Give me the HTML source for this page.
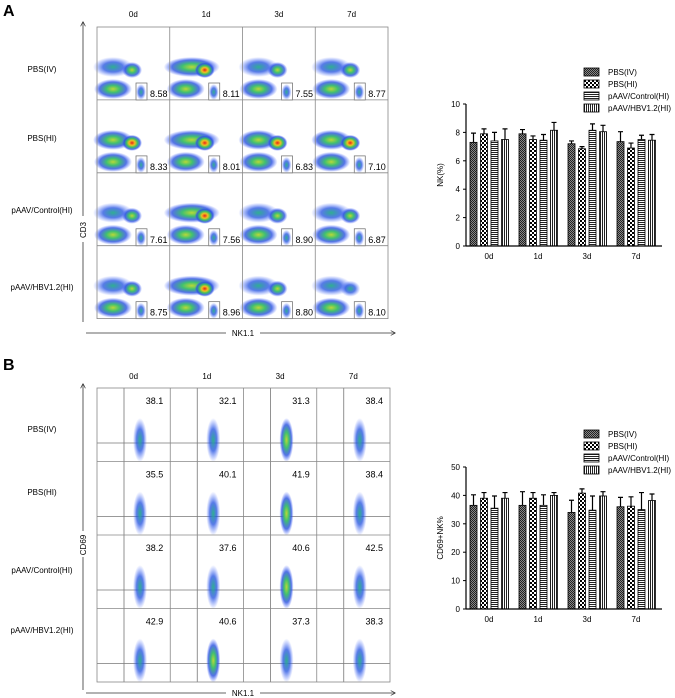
<!DOCTYPE html>
<html><head><meta charset="utf-8">
<style>
html,body{margin:0;padding:0;background:#fff;}
svg{display:block;font-family:"Liberation Sans",Arial,sans-serif;}
</style></head>
<body>
<svg id="fig" width="675" height="698" viewBox="0 0 675 698" xmlns="http://www.w3.org/2000/svg">
<defs>
<radialGradient id="gHot"><stop offset="0" stop-color="#e8201a"/><stop offset="0.3" stop-color="#f0c020"/><stop offset="0.55" stop-color="#3cc060"/><stop offset="0.8" stop-color="#2a50e0" stop-opacity="0.8"/><stop offset="1" stop-color="#4060ff" stop-opacity="0"/></radialGradient>
<radialGradient id="gWarm"><stop offset="0" stop-color="#b8d838"/><stop offset="0.35" stop-color="#40c070"/><stop offset="0.7" stop-color="#2850e0" stop-opacity="0.8"/><stop offset="1" stop-color="#4060ff" stop-opacity="0"/></radialGradient>
<radialGradient id="gCool"><stop offset="0" stop-color="#30b090"/><stop offset="0.5" stop-color="#2050e0" stop-opacity="0.75"/><stop offset="1" stop-color="#5070ff" stop-opacity="0"/></radialGradient>
<pattern id="p1" width="2" height="2" patternUnits="userSpaceOnUse"><rect width="2" height="2" fill="#888"/><rect width="1" height="1" fill="#222"/><rect x="1" y="1" width="1" height="1" fill="#222"/></pattern>
<pattern id="p2" width="4" height="4" patternUnits="userSpaceOnUse"><rect width="4" height="4" fill="#fff"/><rect width="2" height="2" fill="#000"/><rect x="2" y="2" width="2" height="2" fill="#000"/></pattern>
<pattern id="p3" width="3" height="2" patternUnits="userSpaceOnUse"><rect width="3" height="2" fill="#fff"/><rect width="3" height="1" fill="#222"/></pattern>
<pattern id="p4" width="2" height="3" patternUnits="userSpaceOnUse"><rect width="2" height="3" fill="#fff"/><rect width="1" height="3" fill="#222"/></pattern>
<marker id="arr" viewBox="0 0 10 10" refX="9" refY="5" markerWidth="6" markerHeight="6" orient="auto"><path d="M0,0 L10,5 L0,10" fill="none" stroke="#333" stroke-width="1.5"/></marker>
</defs>
<g id="root"></g>
</svg>
<script>
const NS="http://www.w3.org/2000/svg";
const root=document.getElementById('root');
function mk(tag,attrs,parent,text){const e=document.createElementNS(NS,tag);for(const k in attrs)e.setAttribute(k,attrs[k]);if(text!==undefined)e.textContent=text;(parent||root).appendChild(e);return e;}

// ===== data =====
const days=["0d","1d","3d","7d"];
const groups=["PBS(IV)","PBS(HI)","pAAV/Control(HI)","pAAV/HBV1.2(HI)"];
const gateA=[["8.58","8.11","7.55","8.77"],["8.33","8.01","6.83","7.10"],["7.61","7.56","8.90","6.87"],["8.75","8.96","8.80","8.10"]];
const gateB=[["38.1","32.1","31.3","38.4"],["35.5","40.1","41.9","38.4"],["38.2","37.6","40.6","42.5"],["42.9","40.6","37.3","38.3"]];
const nkMean=[[7.3,7.9,7.4,7.5],[7.9,7.5,7.45,8.15],[7.2,6.85,8.15,8.05],[7.35,6.9,7.5,7.45]];
const nkErr=[[0.65,0.35,0.6,0.75],[0.3,0.25,0.4,0.55],[0.2,0.15,0.45,0.45],[0.7,0.35,0.3,0.4]];
const cdMean=[[36.5,39,35.5,39],[36.5,39,36.5,40],[34,40.8,34.8,39.8],[36,36.2,35,38.2]];
const cdErr=[[3.7,2,4.3,2],[4.8,2,3.7,1],[4.3,1.5,5,1.5],[3.3,3.3,6,2.3]];
const yTicksA=[0,2,4,6,8,10];
const yTicksB=[0,10,20,30,40,50];

// ===== panel labels =====
let t=mk('text',{x:3,y:16,'font-size':16,'font-weight':'bold'},root,'A');

t=mk('text',{x:3,y:370,'font-size':16,'font-weight':'bold'},root,'B');


// ===== flow grids =====
function flowGrid(x0,y0,cw,ch,colY,rowYs,kind,vals,yLab,yArrowTop,yArrowBot,xArrowY,yLabY){
  const g=mk('g',{});
  
  days.forEach((d,i)=>{const e=mk('text',{x:x0+cw*i+cw/2,y:colY,'font-size':8,'text-anchor':'middle'},g,d);
    });
  groups.forEach((gr,j)=>{const e=mk('text',{x:42,y:rowYs[j],'font-size':8,'text-anchor':'middle'},g,gr);
    });
  for(let r=0;r<4;r++)for(let c=0;c<4;c++){
    const cx=x0+c*cw, cy=y0+r*ch;
    const cell=mk('g',{},g);
    
    if(kind==='a'){
      const big=(c===1||r===1)?'gHot':'gWarm';
      mk('ellipse',{cx:cx+16+(c===1?6:0),cy:cy+40,rx:20+(c===1?8:0),ry:10,fill:(c===1||r===1)?'url(#gWarm)':'url(#gCool)'},cell);
      mk('ellipse',{cx:cx+35,cy:cy+43,rx:10,ry:8,fill:'url(#'+(r===3&&c===3?'gCool':big)+')'},cell);
      mk('ellipse',{cx:cx+16,cy:cy+62,rx:19,ry:10,fill:'url(#gWarm)'},cell);
      mk('ellipse',{cx:cx+44,cy:cy+65,rx:5,ry:8,fill:'url(#gCool)'},cell);
      mk('rect',{x:cx+39,y:cy+56,width:11,height:17,fill:'none',stroke:'#666','stroke-width':0.7},cell);
      const v=mk('text',{x:cx+53,y:cy+70,'font-size':9},cell,vals[r][c]);
      
    } else {
      mk('line',{x1:cx+27,y1:cy,x2:cx+27,y2:cy+ch,stroke:'#777','stroke-width':0.8},cell);
      mk('line',{x1:cx,y1:cy+55,x2:cx+cw,y2:cy+55,stroke:'#777','stroke-width':0.8},cell);
      mk('ellipse',{cx:cx+43,cy:cy+52,rx:7,ry:22,fill:'url(#'+((c===1&&r===3)||(c===2&&r<3)?'gWarm':'gCool')+')'},cell);
      const v=mk('text',{x:cx+cw-7,y:cy+16,'font-size':9,'text-anchor':'end'},cell,vals[r][c]);
      
    }
  }
  mk('rect',{x:x0,y:y0,width:cw*4,height:ch*4,fill:'none',stroke:'#888','stroke-width':0.8},g);
  for(let i=1;i<4;i++){
    mk('line',{x1:x0+cw*i,y1:y0,x2:x0+cw*i,y2:y0+ch*4,stroke:'#888','stroke-width':0.8},g);
    mk('line',{x1:x0,y1:y0+ch*i,x2:x0+cw*4,y2:y0+ch*i,stroke:'#888','stroke-width':0.8},g);
  }
  mk('line',{x1:83,y1:yArrowBot,x2:83,y2:yLabY+12,stroke:'#333','stroke-width':0.8},g);
  mk('line',{x1:83,y1:yLabY-14,x2:83,y2:yArrowTop,stroke:'#333','stroke-width':0.8,'marker-end':'url(#arr)'},g);
  const yl=mk('text',{x:0,y:0,'font-size':8,'text-anchor':'middle',transform:'translate(86,'+yLabY+') rotate(-90)'},g,yLab);
  
  mk('line',{x1:86,y1:xArrowY,x2:226,y2:xArrowY,stroke:'#333','stroke-width':0.8},g);
  mk('line',{x1:260,y1:xArrowY,x2:395,y2:xArrowY,stroke:'#333','stroke-width':0.8,'marker-end':'url(#arr)'},g);
  const xl=mk('text',{x:243,y:xArrowY+3,'font-size':8,'text-anchor':'middle'},g,'NK1.1');
  
}
flowGrid(97,27,72.75,72.9,17,[72,141,213,290],'a',gateA,'CD3',22,322,333,230);
flowGrid(97,388,73.25,73.5,379,[432,495,573,633],'b',gateB,'CD69',384,690,693,545);

// ===== bar charts =====
function barChart(ax,y0,yTop,xEnd,maxV,ticks,means,errs,yTitle,legY,name){
  const g=mk('g',{});
  
  const ys=v=>y0-(v/maxV)*(y0-yTop);
  const gw=(xEnd-ax)/4;
  const fills=['url(#p1)','url(#p2)','url(#p3)','url(#p4)'];
  days.forEach((d,i)=>{
    const gx=ax+gw*i+4;
    for(let s=0;s<4;s++){
      const m=means[i][s], e=errs[i][s];
      const bx=gx+s*10.5;
      const er=mk('path',{d:`M${bx+3.5},${ys(m)} V${ys(m+e)} M${bx+1},${ys(m+e)} H${bx+6}`,stroke:'#000','stroke-width':1.2,fill:'none'},g);
      
      const b=mk('rect',{x:bx,y:ys(m),width:7,height:y0-ys(m),fill:fills[s],stroke:'#000','stroke-width':0.8},g);
      
    }
    const lbl=mk('text',{x:gx+19,y:y0+13,'font-size':8,'text-anchor':'middle'},g,d);
    
  });
  mk('line',{x1:ax,y1:yTop,x2:ax,y2:y0,stroke:'#000','stroke-width':1.2},g);
  mk('line',{x1:ax,y1:y0,x2:xEnd,y2:y0,stroke:'#000','stroke-width':1.2},g);
  ticks.forEach(v=>{
    mk('line',{x1:ax-3,y1:ys(v),x2:ax,y2:ys(v),stroke:'#000','stroke-width':1},g);
    const tl=mk('text',{x:ax-6,y:ys(v)+3,'font-size':8,'text-anchor':'end'},g,v);
    
  });
  const yt=mk('text',{x:0,y:0,'font-size':8,'text-anchor':'middle',transform:`translate(443,${(y0+yTop)/2}) rotate(-90)`},g,yTitle);
  
  groups.forEach((gr,s)=>{
    const le=mk('g',{},g);
    
    mk('rect',{x:584,y:legY+s*12-4,width:15,height:8,fill:fills[s],stroke:'#000','stroke-width':0.8},le);
    mk('text',{x:608,y:legY+s*12+3,'font-size':8},le,gr);
  });
}
barChart(466,246,104,662,10,yTicksA,nkMean,nkErr,'NK(%)',72,'nk-bar-chart');
barChart(466,609,467,662,50,yTicksB,cdMean,cdErr,'CD69+NK%',434,'cd69-bar-chart');
</script>
</body></html>
